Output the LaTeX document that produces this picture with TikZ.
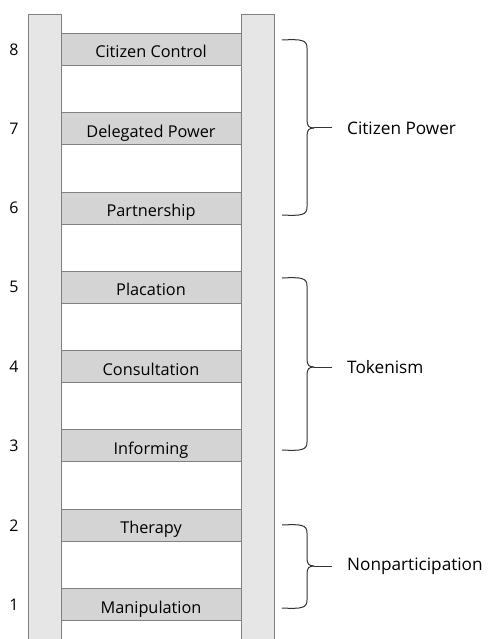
\documentclass[tikz,border=0pt]{standalone}
\usepackage{fontspec}
\setmainfont{Open Sans}
\usetikzlibrary{positioning}

\definecolor{railfill}{HTML}{E6E6E6}
\definecolor{rungfill}{HTML}{D4D4D4}
\definecolor{railedge}{HTML}{808080}
\definecolor{braceline}{HTML}{333333}

% right brace: top, tip, bottom (y in px), tip coordinate name
\newcommand{\groupbrace}[4]{%
  \draw[brace line] (282,#1) .. controls (302,#1-1) and (307,#1) .. (307,#1+8)
    -- (307,#2-8) .. controls (307,#2-2) and (309,#2) .. (314,#2);
  \draw[brace line] (282,#3) .. controls (302,#3+1) and (307,#3) .. (307,#3-8)
    -- (307,#2+8) .. controls (307,#2+2) and (309,#2) .. (314,#2);
  \coordinate (#4) at (332,#2);
  \draw[brace line] (314,#2) -- (#4);
}

\begin{document}
\begin{tikzpicture}[x=1pt,y=-1pt,node distance=47.3pt,
    rail/.style={draw=railedge,fill=railfill,line width=0.9pt,minimum width=33pt,
      minimum height=640pt,inner sep=0pt,outer sep=0pt,anchor=north},
    rung/.style={draw=railedge,fill=rungfill,line width=0.9pt,minimum width=180pt,
      minimum height=32pt,inner sep=0pt,outer sep=0pt,text height=17pt,text depth=0pt,
      font=\fontsize{16.3}{18}\selectfont},
    num/.style={font=\fontsize{16}{18}\selectfont},
    group/.style={anchor=west,inner sep=0pt,font=\fontsize{17.2}{19}\selectfont},
    brace line/.style={draw=braceline,line width=1pt}]
    \useasboundingbox (0,0) rectangle (487,639);
    \clip (0,0) rectangle (487,639);
    \node[rail] (lrail) at (44.5,14) {};
    \node[rail] (rrail) at (257.5,14) {};
    \node[rung] (r1) at (151,604.5) {Manipulation};
    \node[rung] (r2) [above=of r1] {Therapy};
    \node[rung] (r3) [above=of r2] {Informing};
    \node[rung] (r4) [above=of r3] {Consultation};
    \node[rung] (r5) [above=of r4] {Placation};
    \node[rung] (r6) [above=of r5] {Partnership};
    \node[rung] (r7) [above=of r6] {Delegated Power};
    \node[rung] (r8) [above=of r7] {Citizen Control};
    \node[num] (n1) at (14,605) {1};
    \node[num] (n2) at (14,526) {2};
    \node[num] (n3) at (14,446) {3};
    \node[num] (n4) at (14,367) {4};
    \node[num] (n5) at (14,287) {5};
    \node[num] (n6) at (14,208) {6};
    \node[num] (n7) at (14,129) {7};
    \node[num] (n8) at (14,50) {8};
    \groupbrace{40}{128}{215}{t1}
    \groupbrace{278}{367}{450}{t2}
    \groupbrace{525}{566}{608}{t3}
    \node[group] (g1) [right=15pt of t1] {Citizen Power};
    \node[group] (g2) [right=15pt of t2] {Tokenism};
    \node[group] (g3) [right=15pt of t3] {Nonparticipation};
\end{tikzpicture}
\end{document}
